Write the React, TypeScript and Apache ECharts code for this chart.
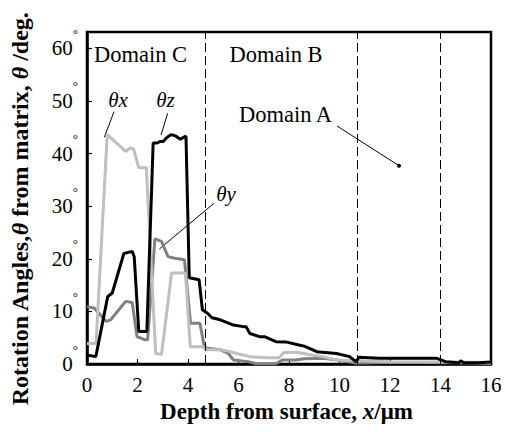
import React, { useEffect, useRef } from "react";
import * as echarts from "echarts";

// Depth (µm), angle (deg)
const thetaX: [number, number][] = [
  [0, 3.9], [0.36, 3.9], [0.8, 43.6], [1.53, 40.4], [1.72, 41.1], [1.85, 40.8], [2.05, 37.3],
  [2.35, 37.3], [2.72, 2.0], [2.95, 1.8], [3.35, 17.3], [3.9, 17.3], [4.09, 3.3], [4.57, 3.3],
  [4.76, 2.7], [5.28, 2.7], [5.67, 2.35], [5.93, 2.0], [6.45, 1.4], [7.1, 1.2], [7.6, 1.2],
  [7.8, 2.2], [8.35, 2.2], [8.9, 1.7], [9.36, 1.4], [9.88, 0.76], [10.65, 0.6], [12, 0.45],
  [14, 0.4], [16, 0.3],
];
const thetaY: [number, number][] = [
  [0, 10.9], [0.3, 10.6], [0.75, 8.1], [0.94, 8.4], [1.53, 11.9], [1.79, 11.7], [1.98, 5.2],
  [2.3, 4.6], [2.4, 4.6], [2.69, 23.8], [2.95, 23.3], [3.21, 20.4], [3.47, 20.1], [3.86, 19.8],
  [4.1, 7.75], [4.47, 7.75], [4.65, 3.3], [4.76, 3.0], [5.28, 2.7], [5.6, 2.0], [5.8, 0.76],
  [6.38, 0.45], [6.7, 0.05], [7.48, 0.05], [7.74, 0.76], [8.26, 0.76], [8.6, 1.0], [9.36, 1.1],
  [9.9, 0.76], [10.65, 0.2], [12, 0.3], [14.2, 0.3], [16, 0.1],
];
const thetaZ: [number, number][] = [
  [0, 1.7], [0.35, 1.4], [0.82, 12.8], [1.0, 13.5], [1.46, 21.0], [1.79, 21.4], [1.87, 20.4],
  [2.05, 6.2], [2.37, 6.2], [2.62, 42.0], [2.78, 42.0], [2.9, 42.3], [3.02, 42.3], [3.15, 43.0],
  [3.34, 43.6], [3.53, 43.3], [3.7, 42.7], [3.79, 43.0], [3.92, 43.3], [4.05, 16.4], [4.44, 16.0],
  [4.57, 10.3], [4.77, 9.65], [4.95, 8.8], [5.28, 8.4], [5.48, 8.0], [5.8, 7.4], [6.19, 7.1],
  [6.3, 7.1], [6.45, 5.8], [6.83, 5.2], [7.03, 5.2], [7.48, 4.25], [7.87, 4.2], [8.39, 3.6],
  [8.6, 3.4], [8.9, 2.8], [9.1, 2.35], [9.88, 2.0], [10.4, 1.4], [10.65, 0.45], [10.78, 1.3],
  [11.56, 1.1], [12.5, 1.1], [13.83, 1.1], [14.2, 0.45], [14.73, 0.25], [14.8, 0.6],
  [14.92, 0.25], [15.5, 0.25], [16, 0.4],
];
const domainBounds = [4.7, 10.7, 14.0];
const domainLabels = ["Domain C", "Domain B", "Domain A"];

const SERIF = "Liberation Serif";

export default function App() {
  const ref = useRef<HTMLDivElement>(null);
  useEffect(() => {
    if (!ref.current) return;
    const chart = echarts.init(ref.current, undefined, { renderer: "svg" });
    const txt = (text: string, x: number, y: number, size: number, italic = false) => ({
      type: "text",
      x,
      y,
      style: {
        text,
        fill: "#000",
        fontFamily: SERIF,
        fontSize: size,
        fontStyle: italic ? "italic" : "normal",
        align: "center",
        verticalAlign: "middle",
      },
    });
    const ln = (x1: number, y1: number, x2: number, y2: number) => ({
      type: "line",
      shape: { x1, y1, x2, y2 },
      style: { stroke: "#000", lineWidth: 1 },
    });
    chart.setOption({
      animation: false,
      backgroundColor: "#fff",
      textStyle: { fontFamily: SERIF },
      grid: {
        left: 80,
        right: 14,
        top: 32,
        bottom: 68,
        show: true,
        borderColor: "#000",
        borderWidth: 2.5,
        backgroundColor: "transparent",
      },
      xAxis: {
        type: "value",
        min: 0,
        max: 16,
        interval: 2,
        axisLine: { show: true, lineStyle: { color: "#000", width: 2.5 } },
        axisTick: { show: true, inside: true, length: 5, lineStyle: { color: "#000", width: 1.2 } },
        splitLine: { show: false },
        axisLabel: { color: "#000", fontFamily: SERIF, fontSize: 21, margin: 10 },
        name: "{b|Depth from surface, }{i|x}{b|/μm}",
        nameLocation: "middle",
        nameGap: 30,
        nameTextStyle: {
          padding: [0, 5, 0, 0],
          rich: {
            b: { fontFamily: SERIF, fontWeight: "bold", fontSize: 23, color: "#000" },
            i: { fontFamily: SERIF, fontWeight: "bold", fontStyle: "italic", fontSize: 23, color: "#000" },
          },
        },
      },
      yAxis: {
        type: "value",
        min: 0,
        max: 63.1,
        interval: 10,
        axisLine: { show: true, lineStyle: { color: "#000", width: 2.5 } },
        axisTick: { show: true, inside: true, length: 5, lineStyle: { color: "#000", width: 1.2 } },
        splitLine: { show: false },
        axisLabel: {
          showMaxLabel: false,
          margin: 9,
          formatter: (v: number) => `{n|${v}}{d|°}`,
          rich: {
            n: { fontFamily: SERIF, fontSize: 21, color: "#000", verticalAlign: "middle" },
            d: {
              fontFamily: SERIF,
              fontSize: 13,
              lineHeight: 13,
              color: "#000",
              verticalAlign: "middle",
              padding: [0, 0, 30, 0],
            },
          },
        },
        name: "{b|Rotation Angles,}{t|θ}{b| from matrix, }{t|θ}{b| /deg.}",
        nameLocation: "middle",
        nameGap: 55,
        nameTextStyle: {
          padding: [0, 22, 0, 0],
          rich: {
            b: { fontFamily: SERIF, fontWeight: "bold", fontSize: 24, color: "#000" },
            t: { fontFamily: SERIF, fontWeight: "bold", fontStyle: "italic", fontSize: 24, color: "#000" },
          },
        },
      },
      series: [
        {
          name: "θy",
          type: "line",
          data: thetaY,
          showSymbol: false,
          lineStyle: { color: "#808080", width: 3 },
          markLine: {
            silent: true,
            symbol: "none",
            label: { show: false },
            lineStyle: { color: "#000", width: 1, type: [9, 4] },
            data: domainBounds.map((v) => ({ xAxis: v })),
          },
        },
        {
          name: "θx",
          type: "line",
          data: thetaX,
          showSymbol: false,
          lineStyle: { color: "#bfbfbf", width: 3 },
        },
        {
          name: "θz",
          type: "line",
          data: thetaZ,
          showSymbol: false,
          lineStyle: { color: "#000", width: 3 },
        },
      ],
      graphic: [
        txt(domainLabels[0], 140.5, 54.5, 22.5),
        txt(domainLabels[1], 276, 54.5, 22.5),
        txt(domainLabels[2], 285.5, 114.5, 22.5),
        ln(337, 126, 399, 165.7),
        { type: "circle", shape: { cx: 399, cy: 165.7, r: 2 }, style: { fill: "#000" } },
        txt("θx", 118, 100, 21, true),
        ln(114, 111.7, 104.3, 137.3),
        txt("θz", 165.5, 100, 21, true),
        ln(167.7, 113.3, 161, 135),
        txt("θy", 226, 194, 21, true),
        ln(214, 203.3, 159.3, 249),
      ],
    });
    return () => chart.dispose();
  }, []);
  return (
    <div
      ref={ref}
      style={{ position: "absolute", left: 0, top: 0, width: 505, height: 432 }}
    />
  );
}
